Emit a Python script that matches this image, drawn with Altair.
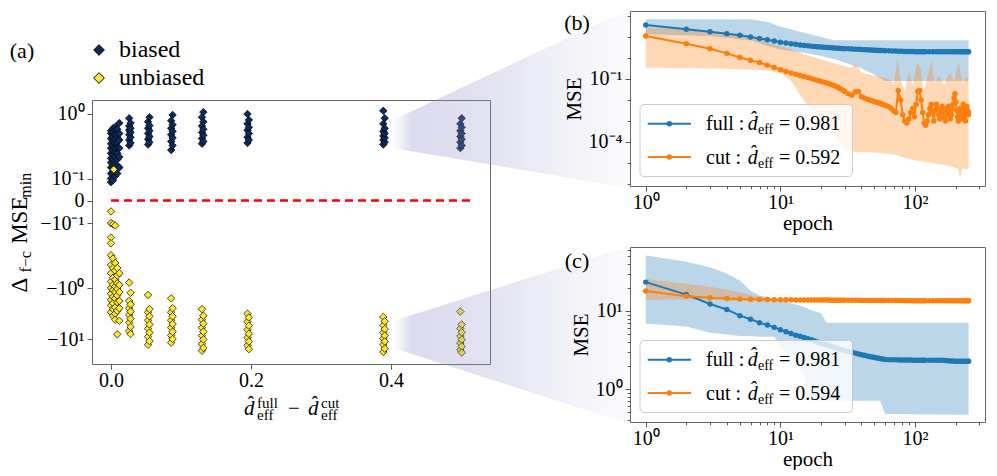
import altair as alt
import numpy as np
import pandas as pd

SERIF = "Liberation Serif"
BLUE = "#1f77b4"
ORANGE = "#ff7f0e"
NAVY = "#0d2a5a"
YELLOW = "#fde72f"

# ---------------- panel (a) ----------------
LEGEND_A = ["biased", "unbiased"]
BIASED_X = [0.000, 0.003, 0.006, 0.009, 0.012, 0.026, 0.028, 0.053, 0.055, 0.086,
            0.088, 0.130, 0.132, 0.195, 0.197, 0.389, 0.391, 0.499, 0.501]
BIASED_Y = [
    [0.08, 0.10, 0.12, 0.15, 0.18, 0.21, 0.25, 0.30, 0.35, 0.42, 0.50, 0.55],
    [0.09, 0.13, 0.16, 0.20, 0.24, 0.28, 0.33, 0.38, 0.45, 0.52, 0.60],
    [0.11, 0.14, 0.17, 0.22, 0.26, 0.30, 0.36, 0.41, 0.48, 0.56, 0.63],
    [0.12, 0.16, 0.20, 0.25, 0.31, 0.37, 0.44, 0.50, 0.58],
    [0.15, 0.22, 0.30, 0.40, 0.50, 0.72],
    [0.33, 0.40, 0.48, 0.56, 0.65, 0.85],
    [0.36, 0.44, 0.52, 0.60, 0.72],
    [0.34, 0.41, 0.50, 0.60, 0.75],
    [0.37, 0.45, 0.55, 0.66, 0.88],
    [0.28, 0.38, 0.48, 0.60, 0.78],
    [0.33, 0.43, 0.54, 0.68, 0.95],
    [0.35, 0.42, 0.52, 0.65, 0.88],
    [0.38, 0.47, 0.58, 0.75, 1.05],
    [0.36, 0.44, 0.56, 0.70, 0.98],
    [0.40, 0.50, 0.62, 0.80],
    [0.34, 0.40, 0.46, 0.54, 0.70, 1.10],
    [0.37, 0.43, 0.50, 0.60, 0.85],
    [0.30, 0.37, 0.45, 0.55, 0.70],
    [0.33, 0.41, 0.50, 0.62, 0.85],
]
UNBIASED_X = [0.004, 0.000, 0.003, 0.006, 0.009, 0.012, 0.026, 0.028, 0.053, 0.055,
              0.086, 0.088, 0.130, 0.132, 0.195, 0.197, 0.389, 0.391, 0.499, 0.501]
UNBIASED_Y = [
    [0.14],
    [-0.047, -0.10, -0.17, -0.21, -0.32, -0.45, -0.60, -0.80, -1.0, -1.3, -1.7, -2.2, -3.0],
    [-0.105, -0.36, -0.50, -0.70, -0.90, -1.1, -1.5, -2.0, -2.6, -3.5],
    [-0.11, -0.42, -0.55, -0.75, -0.95, -1.2, -1.6, -2.4, -3.2, -4.2],
    [-0.50, -0.65, -0.85, -1.05, -1.4, -1.9, -2.8, -8.1],
    [-0.60, -0.90, -1.2, -1.8, -2.5, -4.4],
    [-0.83, -1.8, -2.5, -3.4, -4.8, -7.0],
    [-1.24, -2.1, -2.9, -4.0, -5.8, -8.0],
    [-1.37, -3.0, -4.3, -6.3, -9.0, -13.0],
    [-2.6, -3.6, -5.2, -7.5, -11.0],
    [-1.6, -3.0, -4.3, -6.0, -8.5, -11.8],
    [-2.5, -3.6, -5.1, -7.2, -10.0],
    [-2.6, -4.2, -6.0, -8.6, -12.5, -17.0],
    [-3.5, -5.0, -7.2, -10.2, -15.0],
    [-3.2, -4.6, -6.6, -9.4, -13.4],
    [-3.8, -5.5, -7.9, -11.2, -15.8],
    [-3.7, -5.4, -7.5, -9.8, -13.0, -18.0],
    [-4.5, -6.4, -8.6, -11.2, -15.5],
    [-2.9, -6.2, -8.8, -12.0, -16.5],
    [-5.2, -7.4, -10.3, -14.0, -18.5],
]
ZERO_LINE_X = [0.0, 0.516]
A_XTICKS = [0.0, 0.2, 0.4]
A_YTICKS = [-10, -1, -0.1, 0, 0.1, 1]
# zoom wedges (panel-a units)
WEDGE_X = [0.403, 0.741]
WEDGE_B_TOP = [0.80, 39.3]
WEDGE_B_BOT = [0.30, 0.0552]
WEDGE_C_TOP = [-4.44, -0.231]
WEDGE_C_BOT = [-15.03, -468.0]

# ---------------- panels (b), (c) ----------------
EPOCHS = list(range(1, 31)) + list(range(32, 61, 2)) + list(range(64, 121, 4)) + list(range(128, 249, 8)) + [250]
B_CUT_EP = list(range(1, 31)) + list(range(32, 61, 2)) + list(range(63, 250, 3)) + [250]
B_FULL_LOG = [1.57, 1.37, 1.25, 1.16, 1.08, 1.00, 0.93, 0.87, 0.81, 0.75,
              0.71, 0.68, 0.65, 0.62, 0.60, 0.58, 0.565, 0.55, 0.535, 0.525,
              0.515, 0.505, 0.495, 0.485, 0.478, 0.47, 0.463, 0.456, 0.45, 0.444,
              0.435, 0.427, 0.42, 0.412, 0.405, 0.398, 0.392, 0.386, 0.38, 0.374, 0.368, 0.362, 0.357, 0.352, 0.347,
              0.34, 0.334, 0.328, 0.323, 0.318, 0.314, 0.31, 0.307, 0.304, 0.302, 0.3, 0.3, 0.3, 0.3, 0.3,
              0.3, 0.3, 0.3, 0.3, 0.3, 0.3, 0.3, 0.3, 0.3, 0.3, 0.3, 0.3, 0.3, 0.3, 0.3, 0.3,
              0.3]
B_CUT_LOG = [1.05, 0.68, 0.44, 0.22, 0.02, -0.11, -0.22, -0.34, -0.45, -0.56,
             -0.64, -0.71, -0.77, -0.83, -0.88, -0.93, -0.98, -1.03, -1.07, -1.11,
             -1.15, -1.19, -1.23, -1.27, -1.31, -1.36, -1.41, -1.47, -1.53, -1.59,
             -1.70, -1.78, -1.62, -1.60, -1.84, -1.91, -1.96, -2.00, -2.04, -2.08, -2.11, -2.14, -2.18, -2.21, -2.25,
             -2.30, -2.38, -2.50, -2.60, -1.55, -2.00, -2.70, -3.00, -3.10, -2.90,
             -2.60, -2.40, -2.80, -2.20, -1.60, -1.55, -2.00, -2.60, -3.10, -3.20,
             -3.00, -2.70, -2.40, -2.20, -2.60, -3.00, -2.50, -2.20, -2.40, -2.70,
             -2.90, -2.60, -2.30, -2.50, -2.80, -3.00, -2.70, -2.40, -2.30, -2.60,
             -2.90, -2.70, -2.40, -2.20, -1.90, -1.70, -2.10, -2.50, -2.80, -3.00,
             -2.70, -2.40, -2.60, -2.90, -2.50, -2.20, -2.40, -2.70, -3.00, -2.60,
             -2.30, -2.50, -2.70,
             -2.60]
B_FB_EP = [1, 3, 5, 6, 8, 10, 15, 20, 25, 30, 40, 50, 60, 250]
B_FB_LO = [1.13, 1.05, 0.89, 0.85, 0.57, 0.41, 0.25, 0.10, -0.05, -0.22, -0.50, -0.80, -1.10, -1.10]
B_FB_HI = [1.84, 1.84, 1.84, 1.84, 1.72, 1.50, 1.20, 1.00, 0.84, 0.84, 0.84, 0.84, 0.84, 0.84]
B_CB_EP = [1, 2, 3, 5, 7, 8, 10, 12, 15, 20, 25, 30, 34, 36, 38, 40, 50, 60, 70, 74,
           78, 84, 90, 96, 104, 110, 116, 124, 132, 140, 150, 165, 180, 195, 210, 216, 225, 240, 250]
B_CB_HI = [1.44, 1.37, 1.29, 1.13, 0.89, 0.75, 0.57, 0.42, 0.18, -0.06,
           -0.25, -0.38, -0.45, -0.30, -0.50, -0.70, -0.85, -0.95, -1.15, 0.0,
           -1.0, -1.6, -0.6, -1.3, -0.2, -0.5, -1.6, -0.9, -0.1, -1.2,
           -0.8, -1.3, -0.7, -1.1, -0.2, -0.6, -1.2, -0.9, -1.0]
B_CB_LO = [-0.46, -0.48, -0.50, -0.54, -0.58, -0.60, -0.70, -1.10, -2.05, -2.84,
           -3.63, -4.43, -4.45, -4.46, -4.47, -4.48, -4.50, -4.55, -4.60, -4.65,
           -4.70, -4.75, -4.80, -4.85, -4.90, -4.92, -4.95, -4.97, -5.00, -5.02,
           -5.05, -5.10, -5.15, -5.20, -5.30, -5.75, -5.25, -5.28, -5.30]

C_FULL_LOG = [1.37, 1.21, 1.09, 1.02, 0.94, 0.895, 0.85, 0.82, 0.79, 0.76,
              0.735, 0.71, 0.69, 0.675, 0.66, 0.645, 0.63, 0.615, 0.60, 0.587,
              0.576, 0.565, 0.555, 0.545, 0.535, 0.526, 0.517, 0.508, 0.50, 0.492,
              0.48, 0.47, 0.46, 0.45, 0.44, 0.432, 0.424, 0.417, 0.41, 0.404, 0.398, 0.393, 0.388, 0.383, 0.379,
              0.376, 0.375, 0.374, 0.373, 0.372, 0.372, 0.371, 0.371, 0.37, 0.37, 0.37, 0.37, 0.37, 0.37, 0.37,
              0.37, 0.37, 0.37, 0.369, 0.368, 0.366, 0.363, 0.36, 0.358, 0.356, 0.355, 0.355, 0.355, 0.355, 0.355, 0.355,
              0.355]
C_CUT_LOG = [1.256, 1.19, 1.17, 1.16, 1.155, 1.15, 1.148, 1.146, 1.145, 1.144,
             1.143, 1.143, 1.142, 1.142, 1.142, 1.141, 1.141, 1.141, 1.14, 1.14,
             1.14, 1.14, 1.14, 1.139, 1.139, 1.139, 1.139, 1.138, 1.138, 1.138,
             1.138, 1.137, 1.137, 1.137, 1.136, 1.136, 1.136, 1.135, 1.135, 1.135, 1.135, 1.134, 1.134, 1.134, 1.134,
             1.134, 1.133, 1.133, 1.133, 1.133, 1.132, 1.132, 1.132, 1.132, 1.132, 1.131, 1.131, 1.131, 1.131, 1.131,
             1.131, 1.13, 1.13, 1.13, 1.13, 1.13, 1.13, 1.13, 1.13, 1.13, 1.13, 1.13, 1.13, 1.13, 1.13, 1.13,
             1.13]
C_FB_EP = [1, 2, 3, 4, 5, 6, 7, 9, 10, 12, 14, 15, 17, 20, 22, 55, 60, 250]
C_FB_LO = [0.84, 0.80, 0.72, 0.70, 0.68, 0.68, 0.67, 0.67, 0.55, 0.40, 0.25, 0.18, -0.15, -0.15, -0.15, -0.15, -0.32, -0.33]
C_FB_HI = [1.71, 1.63, 1.56, 1.48, 1.39, 1.26, 1.20, 1.16, 1.14, 1.10, 1.07, 1.05, 1.01, 0.97, 0.85, 0.85, 0.85, 0.85]
C_CB_EP = [1, 2, 3, 5, 7, 8, 250]
C_CB_LO = [1.14, 1.15, 1.14, 1.13, 1.12, 1.13, 1.125]
C_CB_HI = [1.41, 1.35, 1.31, 1.24, 1.18, 1.16, 1.14]

B_DEFF = ["0.981", "0.592"]
C_DEFF = ["0.981", "0.594"]
EPOCH_TICKS = [1, 2, 3, 4, 5, 6, 7, 8, 9, 10, 20, 30, 40, 50, 60, 70, 80, 90, 100, 200, 300]
B_YTICKS = [1e-6, 1e-5, 1e-4, 1e-3, 1e-2, 0.1, 1, 10, 100]
C_YTICKS = [0.4, 0.5, 0.6, 0.7, 0.8, 0.9, 1, 2, 3, 4, 5, 6, 7, 8, 9, 10, 20, 30, 40, 50, 60]

ONE = pd.DataFrame({"k": [0]})


def txt(s, x, y, size=20, align="left", baseline="alphabetic", style="normal", angle=0):
    return alt.Chart(ONE).mark_text(
        text=s, font=SERIF, fontSize=size, align=align, baseline=baseline,
        fontStyle=style, angle=angle, color="black"
    ).encode(x=alt.value(x), y=alt.value(y))


def major_cond(test, major, minor):
    return {"condition": {"test": test, "value": major}, "value": minor}


# ---------- build panel (a) ----------
rows = []
for x, ys in zip(BIASED_X, BIASED_Y):
    for y in ys:
        rows.append({"x": x, "y": y, "kind": "biased"})
for x, ys in zip(UNBIASED_X, UNBIASED_Y):
    for y in ys:
        rows.append({"x": x, "y": y, "kind": "unbiased"})
dfA = pd.DataFrame(rows)

xa = alt.Scale(domain=[-0.0271, 0.5414])
ya = alt.Scale(type="symlog", constant=0.01,
               domain=[-31, -10, -1, -0.1, -0.05, 0, 0.05, 0.1, 1, 1.61],
               range=[264, 239, 188, 123, 111.75, 100.5, 89.5, 78.5, 13.5, 0])
ax_xa = alt.Axis(values=A_XTICKS, format=".1f", title=None, tickSize=5, labelPadding=1, labelFlush=False)
ax_ya = alt.Axis(values=A_YTICKS, title=None, tickSize=5, labelPadding=3,
                 labelExpr="datum.value == 1 ? '10⁰' : datum.value == 0.1 ? '10⁻¹' : datum.value == 0 ? '0' : "
                           "datum.value == -0.1 ? '−10⁻¹' : datum.value == -1 ? '−10⁰' : '−10¹'")
XA = alt.X("x:Q", scale=xa, axis=ax_xa)
YA = alt.Y("y:Q", scale=ya, axis=ax_ya)

pts = alt.Chart(dfA).mark_point(shape="diamond", filled=True, size=56, stroke="black",
                                strokeWidth=0.7, opacity=1).encode(
    x=XA, y=YA,
    color=alt.Color("kind:N", scale=alt.Scale(domain=LEGEND_A, range=[NAVY, YELLOW]),
                    legend=alt.Legend(orient="none", legendX=-5, legendY=-62, title=None,
                                      labelFont=SERIF, labelFontSize=24, labelColor="black",
                                      symbolType="diamond", symbolSize=114, symbolStrokeColor="black",
                                      symbolStrokeWidth=1, symbolOpacity=1, labelOffset=8,
                                      rowPadding=4, padding=0)),
)
zero = alt.Chart(pd.DataFrame({"x": [ZERO_LINE_X[0]], "x2": [ZERO_LINE_X[1]], "y": [0.0]})).mark_rule(
    color="red", strokeWidth=2.5, strokeDash=[8, 5]).encode(x=XA, x2="x2:Q", y=YA)

grad = alt.LinearGradient(gradient="linear", x1=0, x2=1, y1=0, y2=0, stops=[
    alt.GradientStop(offset=0, color="rgba(150,150,205,0)"),
    alt.GradientStop(offset=0.08, color="rgba(150,150,205,0.34)"),
    alt.GradientStop(offset=0.4, color="rgba(150,150,205,0.28)"),
    alt.GradientStop(offset=0.75, color="rgba(150,150,205,0.12)"),
    alt.GradientStop(offset=1, color="rgba(150,150,205,0.04)"),
])
wedge_b = alt.Chart(pd.DataFrame({"x": WEDGE_X, "y": WEDGE_B_TOP, "y2": WEDGE_B_BOT})).mark_area(
    color=grad, clip=False).encode(x=XA, y=YA, y2="y2:Q")
wedge_c = alt.Chart(pd.DataFrame({"x": WEDGE_X, "y": WEDGE_C_TOP, "y2": WEDGE_C_BOT})).mark_area(
    color=grad, clip=False).encode(x=XA, y=YA, y2="y2:Q")

a_texts = [
    txt("(a)", -70, -49, 22, align="center", baseline="middle"),
    txt("Δ", -72, 185.2, 23, align="center", baseline="middle", angle=270),
    txt("f−c", -66, 161.8, 16, align="center", baseline="middle", angle=270),
    txt("MSE", -72, 120.2, 23, align="center", baseline="middle", angle=270),
    txt("min", -66, 85.2, 16, align="center", baseline="middle", angle=270),
    txt("d\u0302", 152, 315, 21, style="italic"),
    txt("full", 165, 307.5, 15),
    txt("eff", 165, 320.3, 15),
    txt("−", 202, 315, 21, align="center"),
    txt("d\u0302", 216, 315, 21, style="italic"),
    txt("cut", 229, 307.5, 15),
    txt("eff", 229, 320.3, 15),
]
panel_a = alt.layer(pts, zero, wedge_b, wedge_c, *a_texts).properties(width=398, height=264)

spacer = alt.Chart(ONE).mark_point(opacity=0, size=1).encode(x=alt.value(50), y=alt.value(80)).properties(
    width=398, height=89, view=alt.ViewBackground(stroke="transparent"))

# ---------- build panels (b), (c) ----------
xs_bc = alt.Scale(type="log", domain=[0.764, 331])
x_test = "datum.value == 1 || datum.value == 10 || datum.value == 100"
ax_x_bc = alt.Axis(title="epoch", values=EPOCH_TICKS, labelFlush=False, labelOverlap=False,
                   labelPadding=1, titlePadding=0,
                   labelExpr="datum.value == 1 ? '10⁰' : datum.value == 10 ? '10¹' : datum.value == 100 ? '10²' : ''",
                   tickSize=major_cond(x_test, 5, 2.8), labelFontSize=major_cond(x_test, 20, 1))
XB = alt.X("epoch:Q", scale=xs_bc, axis=ax_x_bc)


def legend_block(dvals):
    L = [alt.Chart(ONE).mark_rect(fill="white", fillOpacity=0.8, stroke="#cccccc", strokeWidth=1,
                                  cornerRadius=4).encode(x=alt.value(10), x2=alt.value(222.5),
                                                         y=alt.value(93.5), y2=alt.value(165.5))]
    for row_y, base, color, name, d in [(112.7, 119, BLUE, "full :", dvals[0]),
                                        (146, 153, ORANGE, "cut :", dvals[1])]:
        L.append(alt.Chart(ONE).mark_rule(color=color, strokeWidth=2).encode(
            x=alt.value(17.7), x2=alt.value(61), y=alt.value(row_y)))
        L.append(alt.Chart(ONE).mark_circle(color=color, size=30, opacity=1).encode(
            x=alt.value(39.3), y=alt.value(row_y)))
        L.append(txt(name, 76, base, 20))
        L.append(txt("d\u0302", 117.7, base, 20, style="italic"))
        L.append(txt("eff", 128, base + 4, 14))
        L.append(txt("= " + d, 149, base, 20))
    return L


def mse_panel(full_log, cut_log, cut_ep, fb, cb, ydomain, yticks, ylabels, dvals, tag, tag_y):
    ys = alt.Scale(type="log", domain=ydomain)
    test = " || ".join("datum.value == %r" % v for v in ylabels)
    expr = " : ".join("datum.value == %r ? '%s'" % (v, s) for v, s in ylabels.items()) + " : ''"
    yax = alt.Axis(title="MSE", values=yticks, labelExpr=expr, labelOverlap=False, labelPadding=3,
                   titlePadding=4, tickSize=major_cond(test, 5, 2.8),
                   labelFontSize=major_cond(test, 20, 1))

    def band(ep, lo, hi, color):
        df = pd.DataFrame({"epoch": ep, "lo": np.power(10.0, lo), "hi": np.power(10.0, hi)})
        return alt.Chart(df).mark_area(color=color, opacity=0.3).encode(
            x=XB, y=alt.Y("lo:Q", scale=ys, axis=yax), y2="hi:Q")

    def line(eps, vals, color):
        df = pd.DataFrame({"epoch": eps, "mse": np.power(10.0, vals)})
        return alt.Chart(df).mark_line(color=color, strokeWidth=2, point=alt.OverlayMarkDef(
            filled=True, size=30, color=color, opacity=1)).encode(
            x=XB, y=alt.Y("mse:Q", scale=ys, axis=yax))

    layers = [band(*fb, BLUE), band(*cb, ORANGE), line(EPOCHS, full_log, BLUE), line(cut_ep, cut_log, ORANGE)]
    layers += legend_block(dvals)
    layers.append(txt(tag, -53, tag_y, 22, align="center", baseline="middle"))
    return alt.layer(*layers).properties(width=355, height=175)


panel_b = mse_panel(B_FULL_LOG, B_CUT_LOG, B_CUT_EP, (B_FB_EP, B_FB_LO, B_FB_HI), (B_CB_EP, B_CB_LO, B_CB_HI),
                    [8.0e-7, 173], B_YTICKS, {0.1: "10⁻¹", 0.0001: "10⁻⁴"}, B_DEFF, "(b)", 12)
panel_c = mse_panel(C_FULL_LOG, C_CUT_LOG, EPOCHS, (C_FB_EP, C_FB_LO, C_FB_HI), (C_CB_EP, C_CB_LO, C_CB_HI),
                    [0.3776, 66.1], C_YTICKS, {1: "10⁰", 10: "10¹"}, C_DEFF, "(c)", 14)

left = alt.vconcat(spacer, panel_a, spacing=0, bounds="flush").resolve_legend(color="independent")
right = alt.vconcat(panel_b, panel_c, spacing=61, bounds="flush")

chart = alt.hconcat(left, right, spacing=538, bounds="flush").resolve_legend(
    color="independent").properties(padding=0, background="white").configure_view(
    stroke="#666666", strokeWidth=1).configure_axis(
    labelFont=SERIF, labelFontSize=20, labelColor="black", titleFont=SERIF, titleFontSize=21,
    titleFontWeight="normal", titleColor="black", tickColor="#555555", tickWidth=1,
    domain=False, grid=False)

chart.save("out.html", embed_options={"renderer": "svg", "actions": False})
